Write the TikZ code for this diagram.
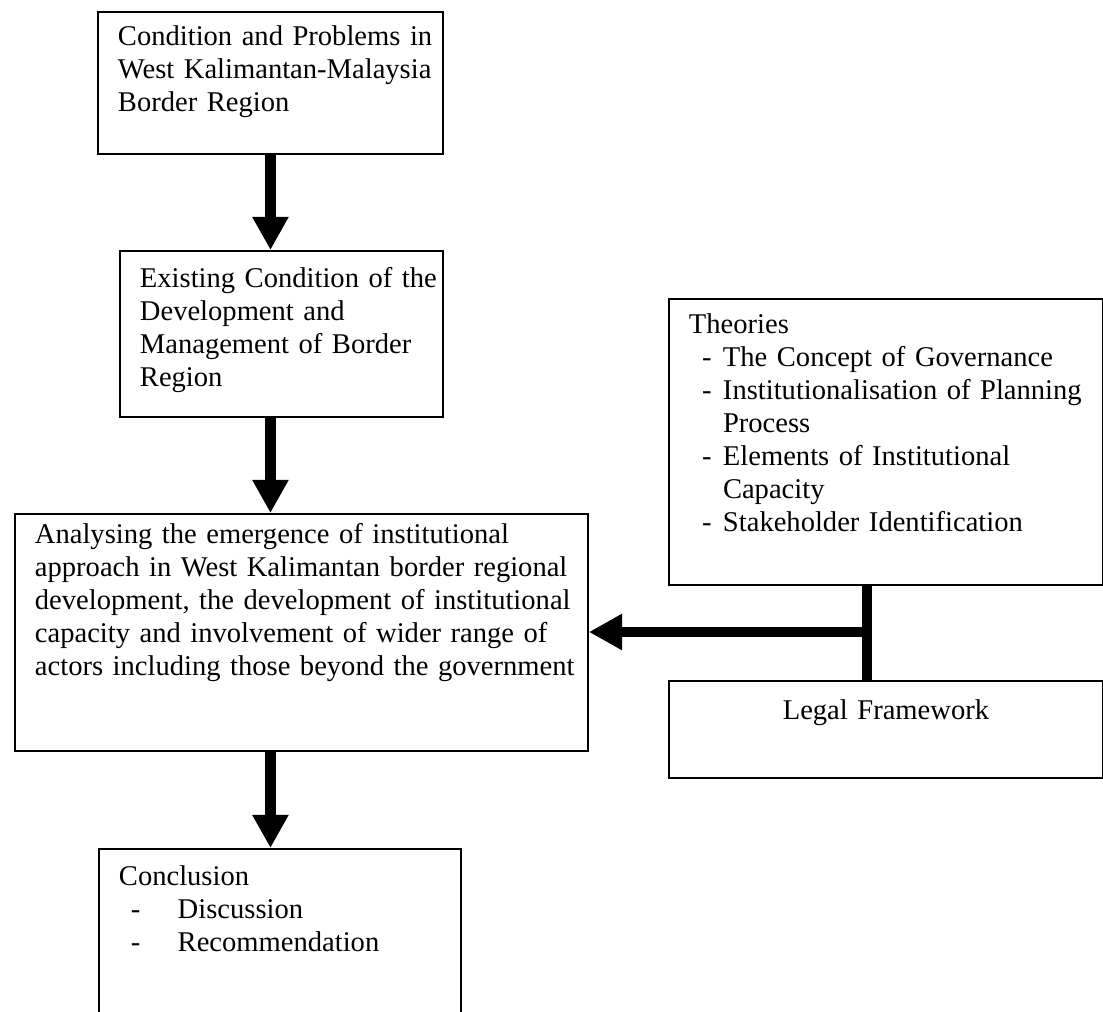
\documentclass[tikz,border=0pt]{standalone}
\usepackage{fontspec}
\setmainfont{Liberation Serif}
\usetikzlibrary{arrows.meta}
\newcommand{\theoitem}[1]{\hspace*{5.5pt}\makebox[8.8pt][l]{-}#1}
\newcommand{\theocont}[1]{\hspace*{14.3pt}#1}
\newcommand{\conclitem}[1]{\hspace*{5pt}\makebox[19.7pt][l]{-}#1}
\begin{document}
\begin{tikzpicture}[
  x=0.42pt, y=-0.42pt,
  box/.style={draw, line width=0.8pt, anchor=north west, inner sep=0pt,
    execute at begin node={\parindent=0pt\leftskip=8.4pt\rightskip=0pt plus 1fil}},
  flow/.style={line width=4.6pt, -{Triangle[width=14.3pt,length=13.9pt]}},
  bar/.style={line width=4.6pt},
  font={\fontsize{12pt}{13.86pt}\selectfont}
]
\useasboundingbox (0,0) rectangle (1103,1012);
\node[box, text width=144.9pt, text height=14.28pt, text depth=45.36pt] (cond) at (97,11) {Condition and Problems in\\West Kalimantan-Malaysia\\Border Region};
\node[box, text width=135.66pt, text height=15.54pt, text depth=54.18pt] (exist) at (119,250) {Existing Condition of the\\Development and\\Management of Border\\Region};
\node[box, text width=240.66pt, text height=12.6pt, text depth=86.94pt] (anal) at (14,513) {Analysing the emergence of institutional\\approach in West Kalimantan border regional\\development, the development of institutional\\capacity and involvement of wider range of\\actors including those beyond the government};
\node[box, text width=152.04pt, text height=15.54pt, text depth=65.1pt] (concl) at (98,848) {Conclusion\\\conclitem{Discussion}\\\conclitem{Recommendation}};
\node[box, text width=182.28pt, text height=14.7pt, text depth=105.42pt] (theo) at (668,298) {Theories\\\theoitem{The Concept of Governance}\\\theoitem{Institutionalisation of Planning}\\\theocont{Process}\\\theoitem{Elements of Institutional}\\\theocont{Capacity}\\\theoitem{Stakeholder Identification}};
\node[box, text width=182.28pt, text height=16.38pt, text depth=24.36pt, execute at begin node=\centering] (legal) at (668,680) {Legal Framework};

\coordinate (jn) at (867,632);
\draw[flow] (cond.south) -- (cond.south |- exist.north);
\draw[flow] (cond.south |- exist.south) -- (cond.south |- anal.north);
\draw[flow] (cond.south |- anal.south) -- (cond.south |- concl.north);
\draw[bar] (theo.south -| jn) -- (legal.north -| jn);
\draw[flow] (jn) -- (jn -| anal.east);
\end{tikzpicture}
\end{document}
